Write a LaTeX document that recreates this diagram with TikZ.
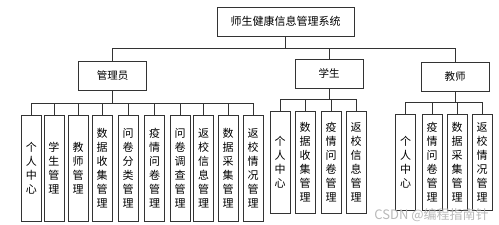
\documentclass[tikz,border=0pt]{standalone}
\usepackage{fontspec}
\newfontfamily\cjk{Noto Sans CJK SC}
\usetikzlibrary{positioning}

\begin{document}
\begin{tikzpicture}[x=1pt,y=-1pt,
    box/.style={draw=black!80,line width=0.6pt,inner sep=0pt,align=center},
    sysbox/.style={box,minimum width=137pt,minimum height=29pt,font=\cjk\fontsize{11}{13}\selectfont},
    rolebox/.style={box,minimum width=68pt,minimum height=29pt,font=\cjk\fontsize{10.5}{13}\selectfont},
    leaf/.style={box,minimum width=20pt,minimum height=#1,font=\cjk\fontsize{11}{14}\selectfont},
    wire/.style={draw=black!80,line width=0.6pt}]
    \useasboundingbox (0,0) rectangle (499,225);
    % System and roles
    \node[sysbox]  (sys) at (285.5,21.5) {师生健康信息管理系统};
    \node[rolebox] (adm) at (112.5,76)   {管理员};
    \node[rolebox] (stu) at (329,73.5)   {学生};
    \node[rolebox] (tea) at (455,76.5)   {教师};
    % Admin functions
    \node[leaf=106pt] (a1)  at (31.5,168)  {个\\人\\中\\心};
    \node[leaf=106pt] (a2)  at (54,168)    {学\\生\\管\\理};
    \node[leaf=106pt] (a3)  at (78,168)    {教\\师\\管\\理};
    \node[leaf=106pt] (a4)  at (102,168)   {数\\据\\收\\集\\管\\理};
    \node[leaf=106pt] (a5)  at (128,168)   {问\\卷\\分\\类\\管\\理};
    \node[leaf=106pt] (a6)  at (154.5,168) {疫\\情\\问\\卷\\管\\理};
    \node[leaf=106pt] (a7)  at (180,168)   {问\\卷\\调\\查\\管\\理};
    \node[leaf=106pt] (a8)  at (203.5,168) {返\\校\\信\\息\\管\\理};
    \node[leaf=106pt] (a9)  at (228,168)   {数\\据\\采\\集\\管\\理};
    \node[leaf=106pt] (a10) at (253,168)   {返\\校\\情\\况\\管\\理};
    % Student functions
    \node[leaf=102pt] (s1) at (280,162) {个\\人\\中\\心};
    \node[leaf=102pt] (s2) at (305,162) {数\\据\\收\\集\\管\\理};
    \node[leaf=102pt] (s3) at (331,162) {疫\\情\\问\\卷\\管\\理};
    \node[leaf=102pt] (s4) at (356,162) {返\\校\\信\\息\\管\\理};
    % Teacher functions
    \node[leaf=96pt] (t1) at (405.5,162) {个\\人\\中\\心};
    \node[leaf=96pt] (t2) at (432,162)   {疫\\情\\问\\卷\\管\\理};
    \node[leaf=96pt] (t3) at (457,162)   {数\\据\\采\\集\\管\\理};
    \node[leaf=96pt] (t4) at (482,162)   {返\\校\\情\\况\\管\\理};
    % Connectors
    \foreach \r in {adm,stu,tea}
      \draw[wire] (sys.south) -- ++(0,12) -| (\r.north);
    \foreach \i in {1,...,10}
      \draw[wire] (adm.south) -- ++(0,12) -| (a\i.north);
    \foreach \i in {1,...,4}
      \draw[wire] (stu.south) -- ++(0,11) -| (s\i.north);
    \foreach \i in {1,...,4}
      \draw[wire] (tea.south) -- ++(0,11) -| (t\i.north);
    % Watermark
    \node[font=\cjk\fontsize{13}{15}\selectfont,text=gray!55] (mark) at (431.5,215) {CSDN @编程指南针};
\end{tikzpicture}
\end{document}
